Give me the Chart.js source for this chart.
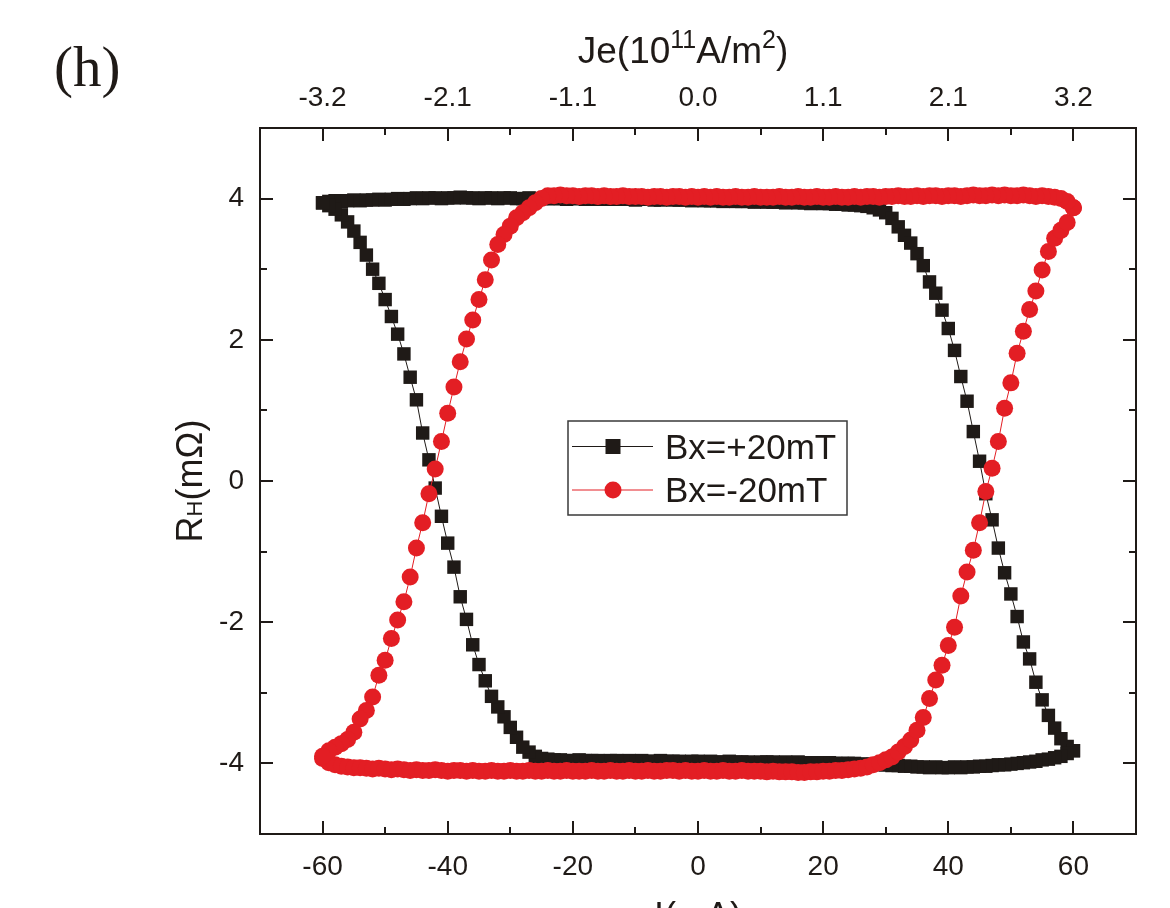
<!DOCTYPE html>
<html><head><meta charset="utf-8">
<script src="https://cdn.jsdelivr.net/npm/chart.js@4.4.0/dist/chart.umd.min.js"></script>
<style>html,body{margin:0;padding:0;background:#fff;overflow:hidden}canvas{display:block}</style>
</head><body>
<canvas id="c" width="1170" height="908"></canvas>
<script>
// ---- data (current sweep in mA, Hall resistance in mOhm) ----
const currentUp = [
 -60,-59,-58,-57,-56,-55,-54,-53,-52,-51,
 -50,-49,-48,-47,-46,-45,-44,-43,-42,-41,
 -40,-39,-38,-37,-36,-35,-34,-33,-32,-31,
 -30,-29,-28,-27,-26,-25,-24,-23,-22,-21,
 -20,-19,-18,-17,-16,-15,-14,-13,-12,-11,
 -10,-9,-8,-7,-6,-5,-4,-3,-2,-1,
 0,1,2,3,4,5,6,7,8,9,
 10,11,12,13,14,15,16,17,18,19,
 20,21,22,23,24,25,26,27,28,29,
 30,31,32,33,34,35,36,37,38,39,
 40,41,42,43,44,45,46,47,48,49,
 50,51,52,53,54,55,56,57,58,59,
 60];
const currentDown = [
 60,59,58,57,56,55,54,53,52,51,
 50,49,48,47,46,45,44,43,42,41,
 40,39,38,37,36,35,34,33,32,31,
 30,29,28,27,26,25,24,23,22,21,
 20,19,18,17,16,15,14,13,12,11,
 10,9,8,7,6,5,4,3,2,1,
 0,-1,-2,-3,-4,-5,-6,-7,-8,-9,
 -10,-11,-12,-13,-14,-15,-16,-17,-18,-19,
 -20,-21,-22,-23,-24,-25,-26,-27,-28,-29,
 -30,-31,-32,-33,-34,-35,-36,-37,-38,-39,
 -40,-41,-42,-43,-44,-45,-46,-47,-48,-49,
 -50,-51,-52,-53,-54,-55,-56,-57,-58,-59,
 -60];

// Bx = +20 mT
const rhPosUp = [
 3.94,3.96,3.97,3.96,3.97,3.98,3.97,3.98,3.98,3.99,
 3.98,3.99,4.00,3.99,4.00,4.01,4.00,4.01,4.01,4.00,
 4.01,4.01,4.02,4.01,4.01,4.00,4.01,4.01,4.00,4.01,
 4.01,4.00,4.00,4.01,4.00,4.00,4.00,4.00,4.00,3.99,
 4.00,4.00,3.99,4.00,3.99,3.99,4.00,3.99,3.99,3.99,
 3.98,3.99,3.99,3.98,3.98,3.99,3.98,3.98,3.98,3.97,
 3.98,3.97,3.97,3.97,3.96,3.97,3.96,3.96,3.96,3.95,
 3.96,3.95,3.95,3.95,3.94,3.95,3.94,3.94,3.93,3.94,
 3.93,3.93,3.92,3.92,3.91,3.91,3.90,3.89,3.87,3.84,
 3.80,3.72,3.60,3.48,3.37,3.22,3.05,2.82,2.66,2.42,
 2.16,1.85,1.48,1.13,0.70,0.28,-0.18,-0.55,-0.95,-1.30,
 -1.60,-1.92,-2.28,-2.52,-2.85,-3.10,-3.32,-3.50,-3.65,-3.76,
 -3.82];
const rhPosDown = [
 -3.82,-3.86,-3.90,-3.92,-3.94,-3.95,-3.97,-3.98,-3.99,-4.00,
 -4.01,-4.02,-4.02,-4.03,-4.04,-4.04,-4.05,-4.05,-4.06,-4.05,
 -4.06,-4.06,-4.05,-4.06,-4.05,-4.05,-4.04,-4.04,-4.03,-4.03,
 -4.02,-4.02,-4.01,-4.01,-4.01,-4.00,-4.00,-4.00,-4.00,-3.99,
 -4.00,-3.99,-3.99,-3.99,-3.98,-3.99,-3.98,-3.99,-3.98,-3.98,
 -3.98,-3.99,-3.98,-3.98,-3.98,-3.97,-3.98,-3.98,-3.97,-3.98,
 -3.97,-3.97,-3.98,-3.97,-3.97,-3.97,-3.96,-3.97,-3.97,-3.96,
 -3.97,-3.96,-3.97,-3.96,-3.96,-3.97,-3.96,-3.96,-3.96,-3.95,
 -3.96,-3.96,-3.95,-3.95,-3.94,-3.93,-3.90,-3.84,-3.77,-3.63,
 -3.49,-3.34,-3.20,-3.05,-2.83,-2.60,-2.32,-1.96,-1.64,-1.22,
 -0.88,-0.50,-0.10,0.30,0.68,1.15,1.47,1.80,2.08,2.33,
 2.57,2.80,3.00,3.20,3.38,3.54,3.67,3.77,3.85,3.90,
 3.94];

// Bx = -20 mT
const rhNegUp = [
 -3.93,-3.99,-4.02,-4.04,-4.05,-4.06,-4.06,-4.07,-4.08,-4.07,
 -4.08,-4.09,-4.08,-4.09,-4.10,-4.09,-4.10,-4.10,-4.09,-4.10,
 -4.11,-4.10,-4.10,-4.11,-4.10,-4.11,-4.11,-4.10,-4.11,-4.11,
 -4.10,-4.11,-4.11,-4.10,-4.11,-4.11,-4.10,-4.11,-4.11,-4.10,
 -4.11,-4.11,-4.11,-4.10,-4.11,-4.11,-4.10,-4.11,-4.11,-4.10,
 -4.11,-4.11,-4.10,-4.11,-4.11,-4.10,-4.10,-4.11,-4.10,-4.11,
 -4.11,-4.10,-4.11,-4.11,-4.10,-4.11,-4.11,-4.10,-4.11,-4.11,
 -4.11,-4.12,-4.11,-4.12,-4.12,-4.12,-4.13,-4.13,-4.12,-4.12,
 -4.11,-4.11,-4.10,-4.10,-4.09,-4.08,-4.07,-4.05,-4.02,-3.99,
 -3.95,-3.91,-3.84,-3.76,-3.67,-3.53,-3.35,-3.08,-2.82,-2.61,
 -2.33,-2.07,-1.63,-1.29,-0.98,-0.59,-0.15,0.18,0.56,1.03,
 1.39,1.81,2.12,2.43,2.69,2.99,3.25,3.44,3.55,3.66,
 3.87];
const rhNegDown = [
 3.87,3.96,4.00,4.02,4.03,4.04,4.03,4.04,4.05,4.04,
 4.04,4.05,4.04,4.05,4.04,4.04,4.05,4.04,4.03,4.04,
 4.04,4.03,4.04,4.04,4.03,4.04,4.03,4.03,4.04,4.03,
 4.03,4.02,4.03,4.03,4.02,4.03,4.02,4.02,4.03,4.02,
 4.02,4.03,4.02,4.02,4.03,4.02,4.02,4.03,4.02,4.02,
 4.02,4.03,4.02,4.02,4.03,4.02,4.02,4.03,4.02,4.03,
 4.02,4.03,4.02,4.03,4.03,4.02,4.03,4.03,4.02,4.03,
 4.03,4.03,4.04,4.03,4.03,4.04,4.03,4.04,4.04,4.03,
 4.04,4.04,4.05,4.04,4.04,4.00,3.94,3.87,3.80,3.73,
 3.61,3.49,3.35,3.13,2.85,2.57,2.28,2.01,1.69,1.33,
 0.96,0.56,0.17,-0.18,-0.59,-0.95,-1.36,-1.71,-1.97,-2.23,
 -2.54,-2.75,-3.06,-3.25,-3.37,-3.56,-3.66,-3.72,-3.77,-3.82,
 -3.90];

const seriesLabels = ['Bx=+20mT', 'Bx=-20mT'];
const xMajorTicks = [-60, -40, -20, 0, 20, 40, 60];
const xMinorTicks = [-50, -30, -10, 10, 30, 50];
const jeTickLabels = ['-3.2', '-2.1', '-1.1', '0.0', '1.1', '2.1', '3.2'];
const yMajorTicks = [-4, -2, 0, 2, 4];
const yMinorTicks = [-3, -1, 1, 3];

// ---- build ----
const INK = '#1f1a17';
const RED = '#e31e24';
const SANS = '"Liberation Sans", Arial, sans-serif';
Chart.defaults.font.family = SANS;

function toPoints(xs, ys) { return xs.map((x, i) => ({ x: x, y: ys[i] })); }
const posData = toPoints(currentUp.concat(currentDown), rhPosUp.concat(rhPosDown));
const negData = toPoints(currentUp.concat(currentDown), rhNegUp.concat(rhNegDown));

function drawRich(ctx, parts, x, y, align) {
  let total = 0;
  parts.forEach(p => { ctx.font = p[1] + 'px ' + SANS; total += ctx.measureText(p[0]).width; });
  let cx = align === 'center' ? x - total / 2 : x;
  ctx.textAlign = 'left';
  ctx.textBaseline = 'alphabetic';
  parts.forEach(p => { ctx.font = p[1] + 'px ' + SANS; ctx.fillText(p[0], cx, y + (p[2] || 0)); cx += ctx.measureText(p[0]).width; });
}

const decor = {
  id: 'decor',
  afterDatasetsDraw(chart) {
    const { ctx, chartArea: a, scales } = chart;
    ctx.save();
    ctx.strokeStyle = INK;
    ctx.lineWidth = 2;
    const xs = scales.x, ys = scales.y;
    const xt = (v, len) => { const p = Math.round(xs.getPixelForValue(v)); ctx.beginPath(); ctx.moveTo(p, a.bottom); ctx.lineTo(p, a.bottom - len); ctx.moveTo(p, a.top); ctx.lineTo(p, a.top + len); ctx.stroke(); };
    const yt = (v, len) => { const p = Math.round(ys.getPixelForValue(v)); ctx.beginPath(); ctx.moveTo(a.left, p); ctx.lineTo(a.left + len, p); ctx.moveTo(a.right, p); ctx.lineTo(a.right - len, p); ctx.stroke(); };
    xMajorTicks.forEach(v => xt(v, 13));
    xMinorTicks.forEach(v => xt(v, 7));
    yMajorTicks.forEach(v => yt(v, 13));
    yMinorTicks.forEach(v => yt(v, 7));
    ctx.strokeRect(a.left, a.top, a.right - a.left, a.bottom - a.top);

    // legend box
    const lx = 568, ly = 421, lw = 279, lh = 94;
    ctx.fillStyle = '#fff';
    ctx.fillRect(lx, ly, lw, lh);
    ctx.strokeStyle = '#3a3a3a';
    ctx.lineWidth = 1.5;
    ctx.strokeRect(lx, ly, lw, lh);
    const rows = [
      { y: 446.5, color: INK, shape: 'rect', text: seriesLabels[0] },
      { y: 490, color: RED, shape: 'circle', text: seriesLabels[1] }
    ];
    rows.forEach(r => {
      ctx.strokeStyle = r.color; ctx.lineWidth = 1;
      ctx.beginPath(); ctx.moveTo(572, r.y); ctx.lineTo(653, r.y); ctx.stroke();
      ctx.fillStyle = r.color;
      if (r.shape === 'rect') ctx.fillRect(613 - 7.5, r.y - 7.5, 15, 15);
      else { ctx.beginPath(); ctx.arc(613, r.y, 8.5, 0, Math.PI * 2); ctx.fill(); }
      ctx.fillStyle = INK;
      ctx.font = '35px ' + SANS;
      ctx.textAlign = 'left'; ctx.textBaseline = 'alphabetic';
      ctx.fillText(r.text, 665, r.y + 12);
    });
    ctx.restore();
  },
  afterDraw(chart) {
    const { ctx, chartArea: a } = chart;
    ctx.save();
    ctx.fillStyle = INK;
    // top title
    drawRich(ctx, [['Je(10', 37, 0], ['11', 25, -15], ['A/m', 37, 0], ['2', 25, -15], [')', 37, 0]], 683, 63, 'center');
    // bottom title (cut by the page edge)
    drawRich(ctx, [['I(mA)', 36, 0]], (a.left + a.right) / 2, 928, 'center');
    // y title
    ctx.save();
    ctx.translate(202, (a.top + a.bottom) / 2);
    ctx.rotate(-Math.PI / 2);
    drawRich(ctx, [['R', 36, 0], ['H', 22, 0], ['(m\u03A9)', 36, 0]], 0, 0, 'center');
    ctx.restore();
    // panel label
    ctx.font = '57px "Liberation Serif", "Times New Roman", serif';
    ctx.textAlign = 'left'; ctx.textBaseline = 'alphabetic';
    ctx.fillText('(h)', 54, 86);
    ctx.restore();
  }
};

const tickFont = { family: SANS, size: 28 };
new Chart(document.getElementById('c').getContext('2d'), {
  type: 'scatter',
  data: {
    datasets: [
      { label: seriesLabels[0], data: posData, showLine: true, borderColor: INK, borderWidth: 1,
        pointStyle: 'rect', pointRadius: 9.5, pointHoverRadius: 9.5, pointBackgroundColor: INK, pointBorderWidth: 0, order: 1 },
      { label: seriesLabels[1], data: negData, showLine: true, borderColor: RED, borderWidth: 1,
        pointStyle: 'circle', pointRadius: 8.5, pointHoverRadius: 8.5, pointBackgroundColor: RED, pointBorderWidth: 0, order: 0 }
    ]
  },
  options: {
    responsive: false, animation: false, devicePixelRatio: 1,
    layout: { padding: 0 },
    plugins: { legend: { display: false }, tooltip: { enabled: false } },
    events: [],
    scales: {
      x: {
        type: 'linear', position: 'bottom', min: -70, max: 70,
        afterBuildTicks: s => { s.ticks = xMajorTicks.map(v => ({ value: v })); },
        afterFit: s => { s.height = 74; },
        grid: { display: false, drawTicks: false }, border: { display: false },
        ticks: { font: tickFont, color: INK, padding: 16, maxRotation: 0, autoSkip: false }
      },
      x2: {
        type: 'linear', position: 'top', min: -70, max: 70,
        afterBuildTicks: s => { s.ticks = xMajorTicks.map(v => ({ value: v })); },
        afterFit: s => { s.height = 128; },
        grid: { display: false, drawTicks: false }, border: { display: false },
        ticks: { font: tickFont, color: INK, padding: 13, maxRotation: 0, autoSkip: false,
                 callback: (v, i) => jeTickLabels[i] }
      },
      y: {
        type: 'linear', position: 'left', min: -5, max: 5,
        afterBuildTicks: s => { s.ticks = yMajorTicks.map(v => ({ value: v })); },
        afterFit: s => { s.width = 260; },
        grid: { display: false, drawTicks: false }, border: { display: false },
        ticks: { font: tickFont, color: INK, padding: 16 }
      },
      y2: {
        type: 'linear', position: 'right', min: -5, max: 5,
        afterFit: s => { s.width = 34; },
        grid: { display: false, drawTicks: false }, border: { display: false },
        ticks: { display: false }
      }
    }
  },
  plugins: [decor]
});
</script>
</body></html>
